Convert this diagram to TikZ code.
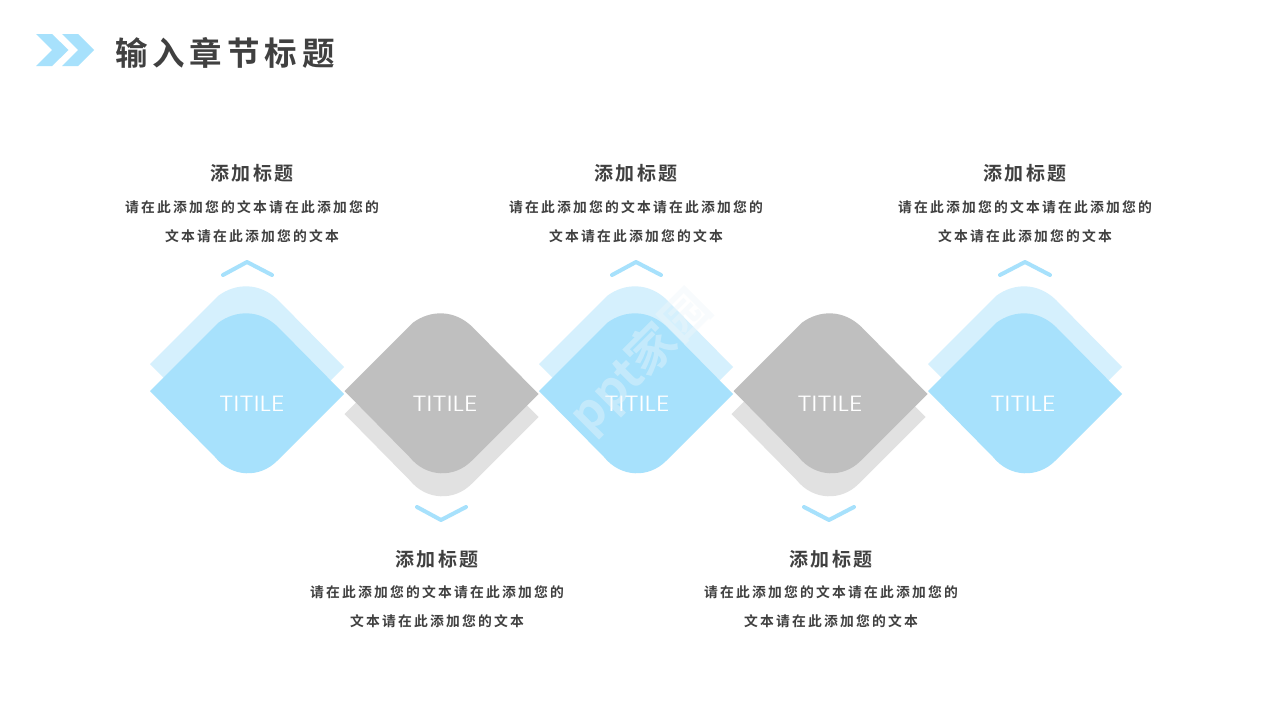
\documentclass[tikz,border=0pt]{standalone}
\usepackage{fontspec}
\setmainfont{Noto Sans CJK SC}[BoldFont={Noto Sans CJK SC Bold}]
\newfontfamily\ttlfont{Noto Sans CJK SC Bold}[LetterSpace=15]
\newfontfamily\hdfont{Noto Sans CJK SC Bold}[LetterSpace=12]
\newfontfamily\bdfont{Noto Sans CJK SC Bold}[LetterSpace=16]
\newfontfamily\tifont{Poppins Light}[FakeStretch=1.22]
\newfontfamily\markfont{Noto Sans CJK SC Bold}
\definecolor{ink}{HTML}{404040}
\definecolor{sky}{HTML}{A7E1FC}
\definecolor{skyl}{HTML}{D5F0FD}
\definecolor{gr}{HTML}{BFBFBF}
\definecolor{grl}{HTML}{E1E1E1}
\definecolor{markc}{HTML}{EEF6FA}
\tikzset{
 chapter/.style={font=\ttlfont\fontsize{32.5}{32.5}\selectfont,text=ink,inner sep=0pt},
 heading/.style={font=\hdfont\fontsize{19}{19}\selectfont,text=ink,inner sep=0pt},
 bodytext/.style={font=\bdfont\fontsize{13.8}{13.8}\selectfont,text=ink,inner sep=0pt},
 tiletext/.style={font=\tifont\fontsize{22}{22}\selectfont,text=white,inner sep=0pt},
 chev/.style={draw=sky,line width=4pt,line cap=round,line join=round},
}
% rounded diamond: #1 centre x, #2 centre y offset, #3 colour
\newcommand{\rdiamond}[3]{%
 \fill[#3,shift={(#1-247,#2)}] (150,391) -- (218,323) .. controls (236,309.5) and (260,309.5) .. (278,327)
   -- (344,394) -- (277,461) .. controls (260,478) and (232,478) .. (215,457) -- cycle;}
\newcommand{\block}[4]{%
 \node[heading] (h#1) at (#2,#3) {添加标题};
 \node[bodytext] (ba#1) at (#2,#4) {请在此添加您的文本请在此添加您的};
 \node[bodytext] (bb#1) at (#2,#4+29) {文本请在此添加您的文本};}
\begin{document}
\begin{tikzpicture}[x=1pt,y=-1pt]
\useasboundingbox (0,0) rectangle (1280,720);
\fill[white] (0,0) rectangle (1280,720);
% chevrons of the chapter mark
\fill[sky] (36,34) -- (52,34) -- (68.5,50) -- (52,66) -- (36,66) -- (52,50) -- cycle;
\fill[sky] (62,34) -- (78,34) -- (94,50) -- (78,66) -- (62,66) -- (78,50) -- cycle;
\node[chapter,anchor=west] (title) at (115,53) {输入章节标题};
% back shapes
\rdiamond{247}{-27}{skyl}
\rdiamond{441.5}{23}{grl}
\rdiamond{636}{-27}{skyl}
\rdiamond{828.5}{23}{grl}
\rdiamond{1025}{-27}{skyl}
% front shapes
\rdiamond{247}{0}{sky}
\rdiamond{441.5}{0}{gr}
\rdiamond{636}{0}{sky}
\rdiamond{830.5}{0}{gr}
\rdiamond{1025}{0}{sky}
\node[tiletext] (t1) at (252,404) {TITILE};
\node[tiletext] (t2) at (445,404) {TITILE};
\node[tiletext] (t3) at (637,404) {TITILE};
\node[tiletext] (t4) at (830,404) {TITILE};
\node[tiletext] (t5) at (1023,404) {TITILE};
% carets
\draw[chev] (223,275) -- (247,262) -- (272,275);
\draw[chev] (612,275) -- (636,262) -- (661,275);
\draw[chev] (1000,275) -- (1025,262) -- (1050,275);
\draw[chev] (417,507) -- (441,520) -- (466,507);
\draw[chev] (804,507) -- (829,520) -- (854,507);
\block{1}{252}{173}{207.5}
\block{3}{636}{173}{207.5}
\block{5}{1025}{173}{207.5}
\block{2}{437}{559}{592}
\block{4}{831}{559}{592}
% faint mark
\node[font=\markfont\fontsize{48}{48}\selectfont,text=markc,opacity=.4,rotate=45,inner sep=0pt] (mark) at (641,362) {ppt家园};
\end{tikzpicture}
\end{document}
